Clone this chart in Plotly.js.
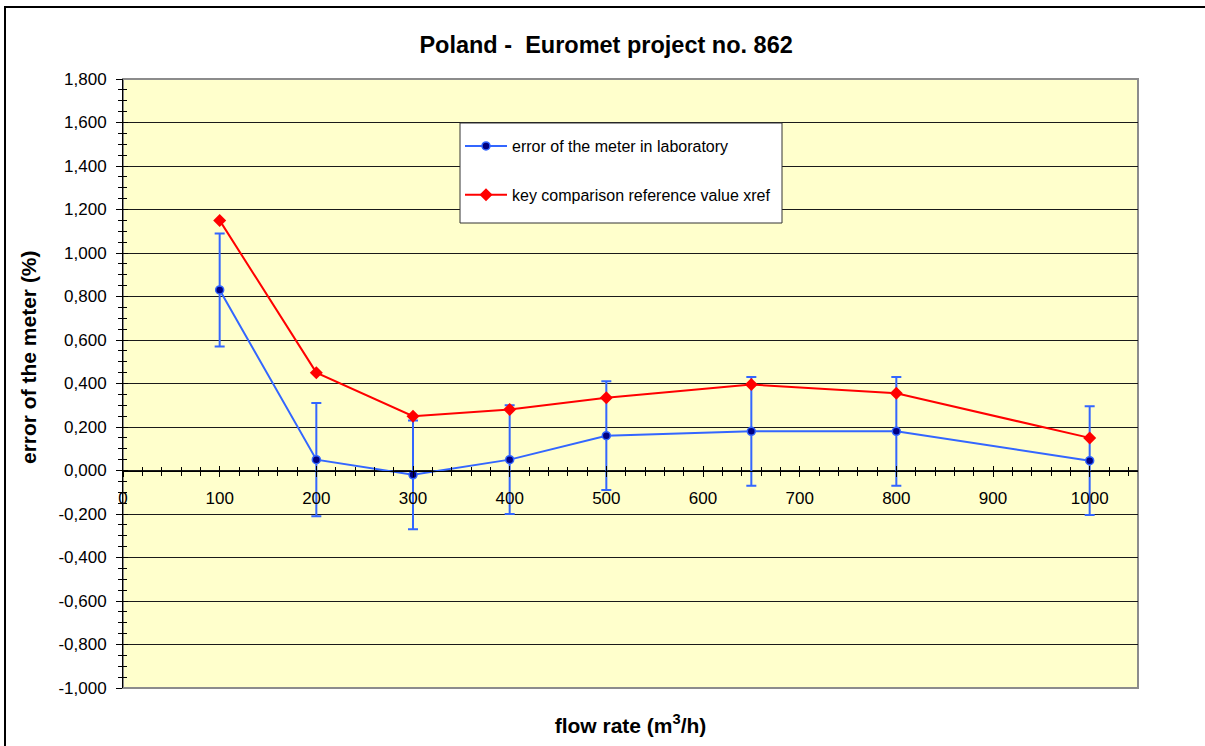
<!DOCTYPE html>
<html>
<head>
<meta charset="utf-8">
<script src="https://cdn.plot.ly/plotly-3.0.1.min.js"></script>
<style>
  html, body { margin: 0; padding: 0; background: #ffffff; overflow: hidden; }
  #wrap { position: relative; width: 1205px; height: 746px; overflow: hidden; }
  #chart { position: absolute; left: 0; top: 0; width: 1205px; height: 746px; }
  #frameTop { position: absolute; left: 4px; top: 6px; width: 1201px; height: 2px; background: #000; pointer-events: none; }
  #frameLeft { position: absolute; left: 4px; top: 6px; width: 2px; height: 740px; background: #000; pointer-events: none; }
</style>
</head>
<body>
<div id="wrap">
<div id="chart"></div>
<div id="frameTop"></div>
<div id="frameLeft"></div>
</div>
<script>
// ---- data ----
const flowRate = [100, 200, 300, 400, 500, 650, 800, 1000];
const labError = [0.83, 0.05, -0.02, 0.05, 0.16, 0.18, 0.18, 0.045];
const labUncertainty = [0.26, 0.26, 0.25, 0.25, 0.25, 0.25, 0.25, 0.25];
const refValue = [1.15, 0.45, 0.25, 0.28, 0.335, 0.395, 0.355, 0.15];

const seriesNames = ["error of the meter in laboratory", "key comparison reference value xref"];

const yTickVals = [-1, -0.8, -0.6, -0.4, -0.2, 0, 0.2, 0.4, 0.6, 0.8, 1, 1.2, 1.4, 1.6, 1.8];
const yTickText = ["-1,000", "-0,800", "-0,600", "-0,400", "-0,200", "0,000", "0,200", "0,400",
                   "0,600", "0,800", "1,000", "1,200", "1,400", "1,600", "1,800"];
const xTickVals = [0, 100, 200, 300, 400, 500, 600, 700, 800, 900, 1000];
const xTickText = ["0", "100", "200", "300", "400", "500", "600", "700", "800", "900", "1000"];

const titleText = "Poland -  Euromet project no. 862";
const xTitleText = "flow rate (m<sup>3</sup>/h)";
const yTitleText = "error of the meter (%)";

// ---- chart ----
const xRange = [0, 1050];
const yRange = [-1, 1.8];
const zeroPos = (0 - yRange[0]) / (yRange[1] - yRange[0]);
const FONT = "Liberation Sans, Arial, Helvetica, sans-serif";
// pixel helpers for the plot area (l=123, plot width 1015, t=79, plot height 609)
const px = v => (v - 123) / 1015;
const py = v => (688 - v) / 609;

const traces = [
  {
    x: flowRate, y: labError, name: seriesNames[0], type: "scatter", mode: "lines+markers",
    legendgroup: "a",
    line: { color: "#3366FF", width: 2 },
    marker: { symbol: "circle", size: 8, color: "#000080", line: { color: "#3366FF", width: 1.5 } },
    error_y: { type: "data", array: labUncertainty, visible: true, color: "#3366FF", thickness: 2, width: 5 },
    xaxis: "x", yaxis: "y"
  },
  {
    x: flowRate, y: refValue, name: seriesNames[1], type: "scatter", mode: "lines+markers",
    legendgroup: "b",
    line: { color: "#FF0000", width: 2 },
    marker: { symbol: "diamond", size: 10, color: "#FF0000" },
    xaxis: "x", yaxis: "y"
  },
  // empty helper traces so the crossing tick axes are drawn
  { x: [], y: [], xaxis: "x2", yaxis: "y", showlegend: false, hoverinfo: "skip", type: "scatter" },
  { x: [], y: [], xaxis: "x3", yaxis: "y", showlegend: false, hoverinfo: "skip", type: "scatter" },
  { x: [], y: [], xaxis: "x", yaxis: "y2", showlegend: false, hoverinfo: "skip", type: "scatter" }
];

const layout = {
  width: 1205, height: 746,
  margin: { l: 123, r: 67, t: 79, b: 58, pad: 0 },
  paper_bgcolor: "#FFFFFF",
  plot_bgcolor: "#FFFFCC",
  font: { family: FONT, color: "#000000", size: 17 },
  showlegend: true,
  title: {
    text: "<b>" + titleText + "</b>",
    font: { family: FONT, size: 23.5, color: "#000000" },
    xref: "container", x: 0.503, xanchor: "center",
    yref: "container", y: 1 - 45 / 746, yanchor: "middle"
  },
  legend: {
    x: px(460), y: py(129), xanchor: "left", yanchor: "top",
    bgcolor: "rgba(0,0,0,0)", borderwidth: 0,
    font: { family: FONT, size: 16, color: "#000000" },
    tracegroupgap: 25, itemwidth: 42
  },
  xaxis: {
    range: xRange, showline: false, ticks: "", showticklabels: false,
    showgrid: false, zeroline: false, fixedrange: true,
    title: { text: "<b>" + xTitleText + "</b>", standoff: 30,
             font: { family: FONT, size: 21, color: "#000000" } }
  },
  xaxis2: {
    overlaying: "x", anchor: "free", position: zeroPos, side: "bottom",
    range: xRange, tickmode: "array", tickvals: xTickVals, ticktext: xTickText,
    ticks: "outside", ticklen: 5, tickwidth: 1, tickcolor: "#000000",
    minor: { ticks: "outside", tick0: 0, dtick: 20, ticklen: 4, tickwidth: 1, tickcolor: "#000000", showgrid: false },
    showline: true, linecolor: "#000000", linewidth: 1,
    showgrid: false, zeroline: false,
    tickfont: { family: FONT, size: 17, color: "#000000" },
    ticklabelstandoff: 7
  },
  xaxis3: {
    overlaying: "x", anchor: "free", position: zeroPos, side: "bottom",
    range: xRange, tickmode: "array", tickvals: xTickVals,
    ticks: "inside", ticklen: 5, tickwidth: 1, tickcolor: "#000000",
    minor: { ticks: "inside", tick0: 0, dtick: 20, ticklen: 4, tickwidth: 1, tickcolor: "#000000", showgrid: false },
    showticklabels: false, showline: false, showgrid: false, zeroline: false
  },
  yaxis: {
    range: yRange, tickmode: "array", tickvals: yTickVals, ticktext: yTickText,
    ticks: "outside", ticklen: 6, tickwidth: 1, tickcolor: "#000000",
    minor: { ticks: "outside", tick0: 0, dtick: 0.05, ticklen: 4, tickwidth: 1, tickcolor: "#000000", showgrid: false },
    showline: true, linecolor: "#000000", linewidth: 1,
    showgrid: true, gridcolor: "#1a1a1a", gridwidth: 1, zeroline: false,
    tickfont: { family: FONT, size: 17, color: "#000000" },
    ticklabelstandoff: 6
  },
  yaxis2: {
    overlaying: "y", anchor: "x", side: "left",
    range: yRange, tickmode: "array", tickvals: yTickVals,
    ticks: "inside", ticklen: 5, tickwidth: 1, tickcolor: "#000000",
    minor: { ticks: "inside", tick0: 0, dtick: 0.05, ticklen: 4, tickwidth: 1, tickcolor: "#000000", showgrid: false },
    showticklabels: false, showline: false, showgrid: false, zeroline: false
  },
  annotations: [
    { text: "<b>" + yTitleText + "</b>", textangle: -90, showarrow: false,
      xref: "paper", yref: "paper",
      x: px(28), y: py(357), xanchor: "center", yanchor: "middle",
      font: { family: FONT, size: 21, color: "#000000" } }
  ],
  shapes: [
    // plot area border (grey)
    { type: "rect", xref: "paper", yref: "paper", x0: 0, x1: 1, y0: 0, y1: 1,
      line: { color: "#8c8c8c", width: 2 }, fillcolor: "rgba(0,0,0,0)", layer: "below" },
    // legend box
    { type: "rect", xref: "paper", yref: "paper", x0: px(460), x1: px(782), y0: py(223), y1: py(123),
      line: { color: "#333333", width: 1 }, fillcolor: "#FFFFFF", layer: "above" }
  ]
};

Plotly.newPlot("chart", traces, layout, { displayModeBar: false, staticPlot: true });
</script>
</body>
</html>
